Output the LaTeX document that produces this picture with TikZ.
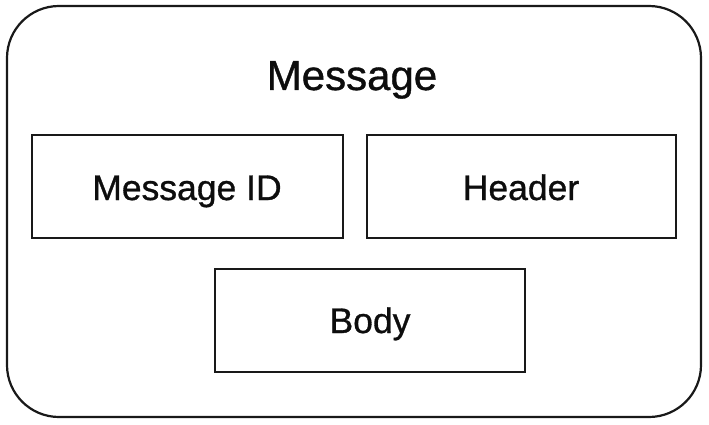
\documentclass[tikz,border=0pt]{standalone}
\usepackage{fontspec}
\setmainfont{Liberation Sans}
\newfontfamily\medfont[FakeBold=0.9]{Liberation Sans}
\begin{document}
\begin{tikzpicture}[x=1pt,y=-1pt,
  part/.style={draw=black!90,line width=2.2pt,inner sep=0pt},
  lbl/.style={font=\medfont\fontsize{35.5}{40}\selectfont,text=black!95,anchor=base}]
\useasboundingbox (0,0) rectangle (709,425);
\draw[black!90,line width=2.2pt,rounded corners=52pt] (7,6) rectangle (701,417);
\node[font=\medfont\fontsize{42}{48}\selectfont,text=black!95,anchor=base] (title) at (352,90) {Message};
\draw[part] (32,135) rectangle (343,238);
\draw[part] (367,135) rectangle (676,238);
\draw[part] (215,269) rectangle (525,372);
\node[lbl] (mid) at (187,200) {Message ID};
\node[lbl] (hdr) at (521,200) {Header};
\node[lbl] (body) at (370,333) {Body};
\end{tikzpicture}
\end{document}
